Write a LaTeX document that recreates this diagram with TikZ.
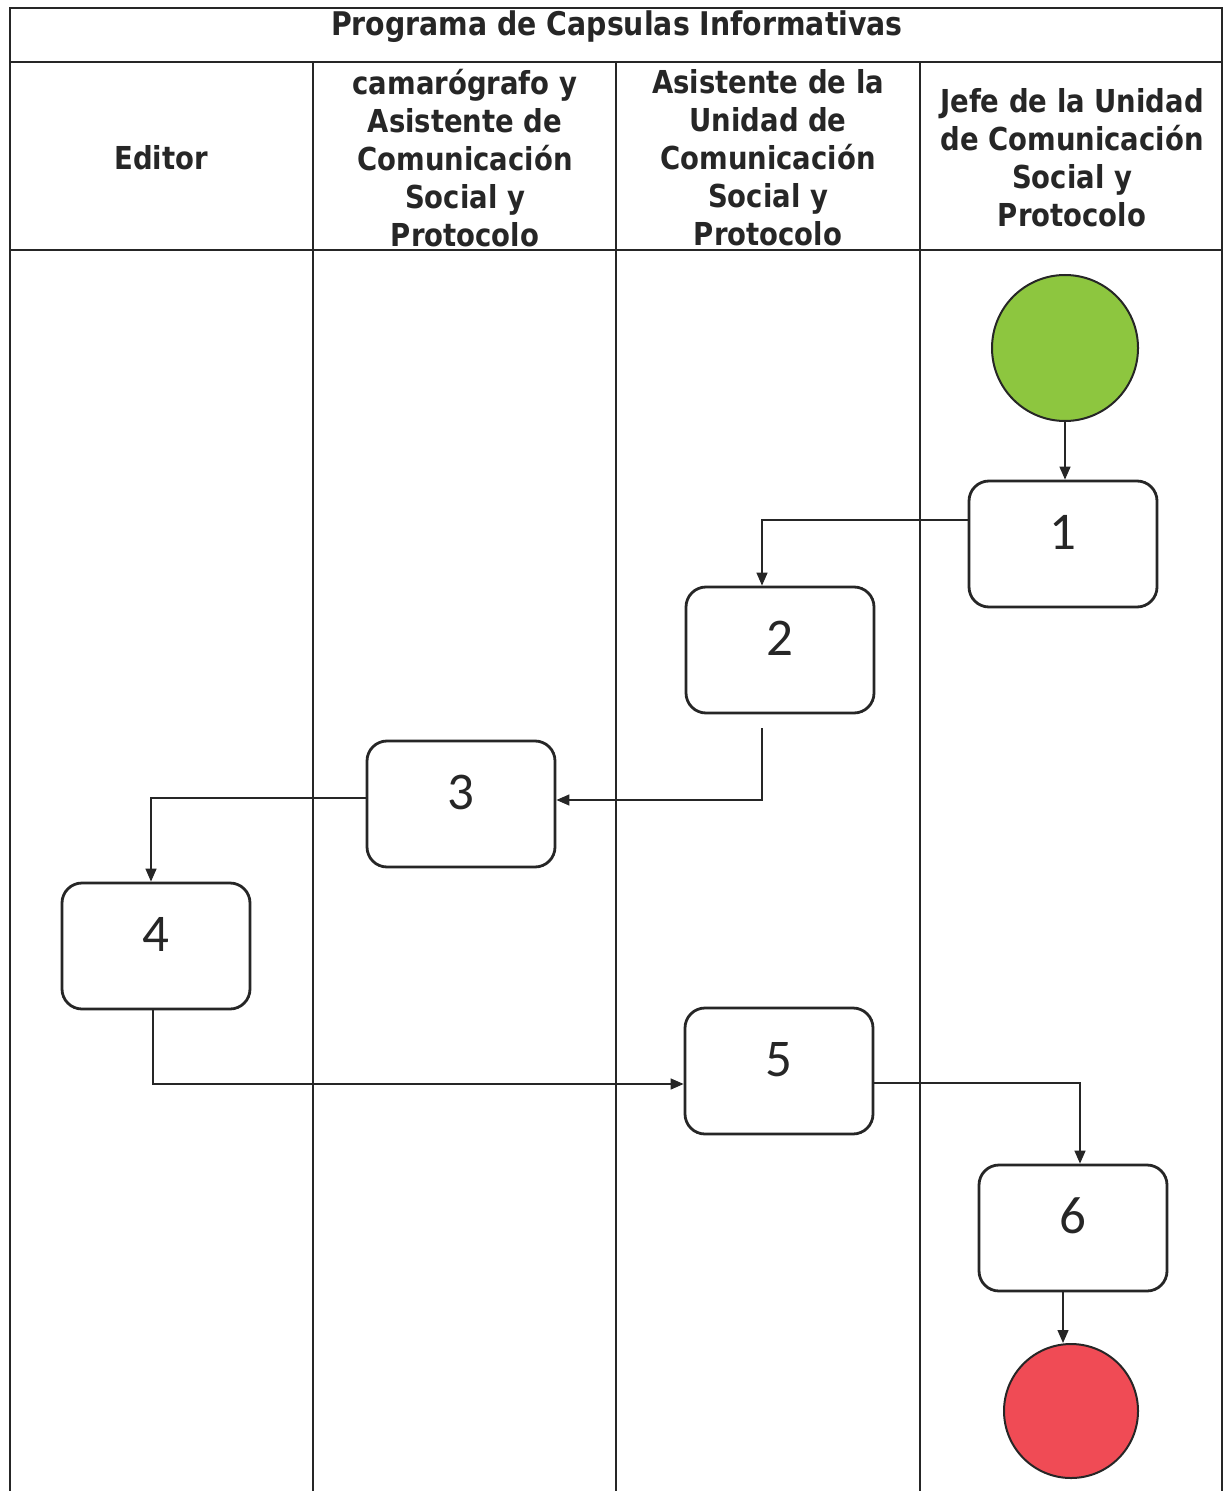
\documentclass[tikz,border=0pt]{standalone}
\usepackage{fontspec}
\setmainfont{DejaVu Sans}
\newfontfamily\hdrfont[FakeStretch=0.87]{DejaVu Sans}
\newfontfamily\numfont{Carlito}
\usetikzlibrary{arrows.meta}
\definecolor{startgreen}{RGB}{141,198,63}
\definecolor{endred}{RGB}{240,75,85}
\begin{document}
\begin{tikzpicture}[x=0.5pt,y=-0.5pt,
  lane/.style={line width=1pt, draw=black!85},
  hdr/.style={font=\hdrfont\bfseries\fontsize{15.8}{19}\selectfont, align=center, text=black!85},
  stepbox/.style={draw=black!85, rounded corners=10pt, minimum width=94pt, minimum height=63pt, line width=1.4pt, inner sep=0pt,
    font=\numfont\fontsize{26.5}{30}\selectfont, text=black!85, text height=16.5pt, text depth=11.5pt},
  flow/.style={line width=0.7pt, draw=black!85, -{Triangle[length=6.5pt,width=5.5pt]}},
  term/.style={circle, draw=black!85, line width=1pt, inner sep=0pt}]
\useasboundingbox (0,0) rectangle (1224,1491);
% table
\draw[lane] (10,1491) -- (10,8) -- (1222,8) -- (1222,1491);
\draw[lane] (10,62) -- (1222,62);
\draw[lane] (10,250) -- (1222,250);
\draw[lane] (313,62) -- (313,1491);
\draw[lane] (616,62) -- (616,1491);
\draw[lane] (920,62) -- (920,1491);
% headers
\node[hdr, font=\hdrfont\bfseries\fontsize{16.3}{19}\selectfont] (title) at (617,27) {Programa de Capsulas Informativas};
\node[hdr] (h1) at (161,158) {Editor};
\node[hdr] (h2) at (465,158) {camarógrafo y\\Asistente de\\Comunicación\\Social y\\Protocolo};
\node[hdr] (h3) at (768,158) {Asistente de la\\Unidad de\\Comunicación\\Social y\\Protocolo};
\node[hdr] (h4) at (1072,158) {Jefe de la Unidad\\de Comunicación\\Social y\\Protocolo};
% nodes
\node[term, fill=startgreen, minimum size=73pt] (start) at (1065,348) {};
\node[stepbox] (b1) at (1063,544) {1};
\node[stepbox] (b2) at (780,650) {2};
\node[stepbox] (b3) at (461,804) {3};
\node[stepbox] (b4) at (156,946) {4};
\node[stepbox] (b5) at (779,1071) {5};
\node[stepbox] (b6) at (1073,1228) {6};
\node[term, fill=endred, minimum size=67pt] (stop) at (1071,1411) {};
% connectors
\draw[flow] (start.south) -- (start.south |- b1.north);
\draw[flow] ([yshift=12pt]b1.west) -| ([xshift=-9pt]b2.north);
\draw[flow] ([xshift=-9pt,yshift=-7pt]b2.south) |- ([yshift=2pt]b3.east);
\draw[flow] ([yshift=3pt]b3.west) -| ([xshift=-2.5pt]b4.north);
\draw[flow] ([xshift=-1.5pt]b4.south) |- ([yshift=-6.5pt]b5.west);
\draw[flow] ([yshift=-6pt]b5.east) -| ([xshift=3.5pt]b6.north);
\draw[flow] ([xshift=-5pt]b6.south) -- ([xshift=-5pt]b6.south |- stop.north);
\end{tikzpicture}
\end{document}
